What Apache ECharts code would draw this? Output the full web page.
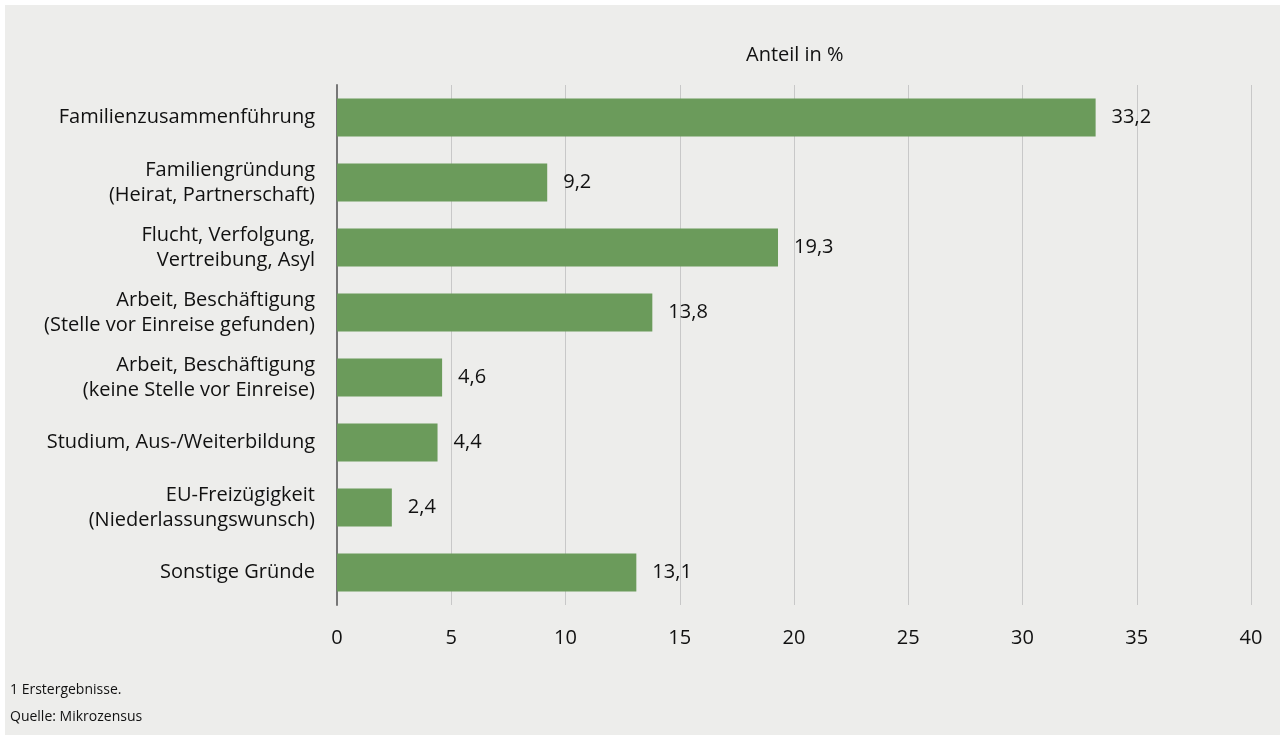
<!DOCTYPE html>
<html><head><meta charset="utf-8">
<script src="https://cdn.jsdelivr.net/npm/echarts@6/dist/echarts.min.js"></script>
<style>
html,body{margin:0;padding:0;background:#fff;}
#bg{position:absolute;left:5px;top:5px;width:1275px;height:730px;background:#ededeb;}
#c{position:absolute;left:0;top:0;width:1280px;height:735px;}
</style></head><body>
<div id="bg"></div><div id="c"></div>
<script>
const categories = [
  "Familienzusammenführung",
  "Familiengründung\n(Heirat, Partnerschaft)",
  "Flucht, Verfolgung,\nVertreibung, Asyl",
  "Arbeit, Beschäftigung\n(Stelle vor Einreise gefunden)",
  "Arbeit, Beschäftigung\n(keine Stelle vor Einreise)",
  "Studium, Aus-/Weiterbildung",
  "EU-Freizügigkeit\n(Niederlassungswunsch)",
  "Sonstige Gründe"
];
const values = [33.2, 9.2, 19.3, 13.8, 4.6, 4.4, 2.4, 13.1];
const axisTitle = "Anteil in %";
const footnotes = ["1 Erstergebnisse.", "Quelle: Mikrozensus"];

const font = "'Open Sans', 'Noto Sans', sans-serif";
const chart = echarts.init(document.getElementById('c'), null, {renderer:'canvas'});
chart.setOption({
  backgroundColor: 'transparent',
  textStyle: {fontFamily: font},
  animation: false,
  graphic: [
    {type:'text', left: 746, top: 45, style:{text: axisTitle, font: "20px " + font, fill:'#111'}},
    {type:'text', left: 10, top: 683, style:{text: footnotes[0], font: "14px " + font, fill:'#111'}},
    {type:'text', left: 10, top: 710, style:{text: footnotes[1], font: "14px " + font, fill:'#111'}}
  ],
  grid: {left: 337, right: 29, top: 85, bottom: 130, containLabel: false},
  xAxis: {
    type: 'value', min: 0, max: 40, interval: 5,
    axisLine: {show: false},
    axisTick: {show: false},
    axisLabel: {color:'#111', fontSize: 20, margin: 23, fontFamily: font},
    splitLine: {lineStyle: {color: '#c8c8c8', width: 1}}
  },
  yAxis: {
    type: 'category', data: categories, inverse: true,
    axisLine: {show: true, lineStyle: {color: '#777', width: 2}},
    axisTick: {show: false},
    axisLabel: {color:'#111', fontSize: 20, lineHeight: 25, margin: 22, align: 'right', fontFamily: font}
  },
  series: [{
    type: 'bar', data: values, barWidth: 38,
    itemStyle: {color: '#6b9b5b'},
    label: {show: true, position: 'right', distance: 16, color: '#111', fontSize: 20, fontFamily: font,
      formatter: p => p.value.toFixed(1).replace('.', ',')}
  }]
});
</script></body></html>
